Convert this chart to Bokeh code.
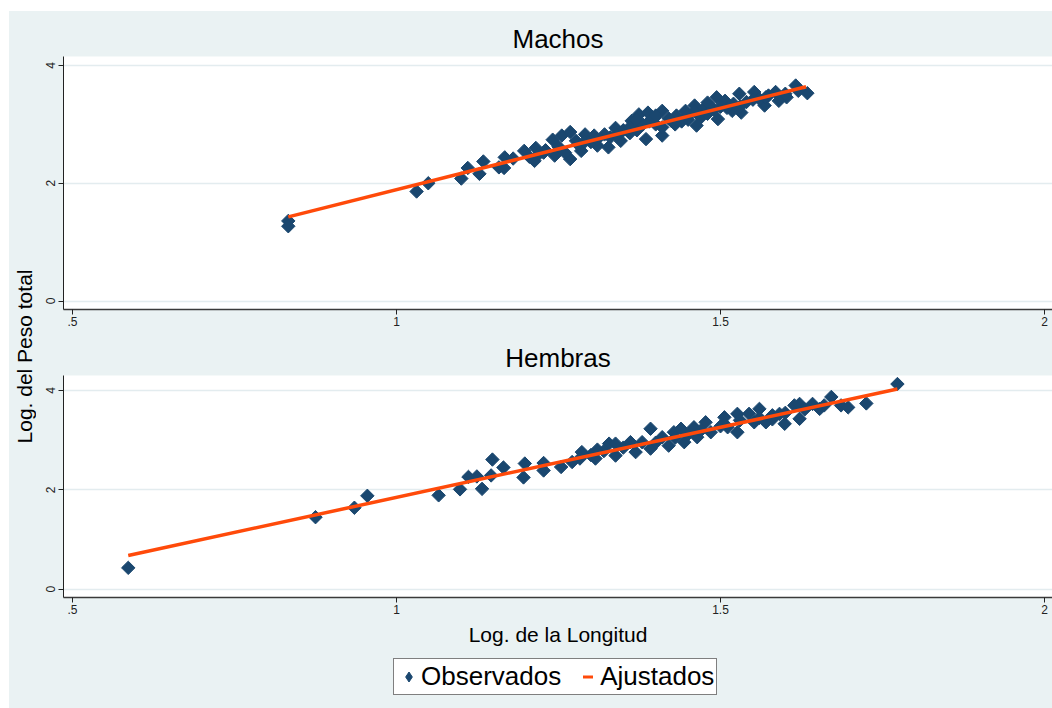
import math
from bokeh.plotting import figure
from bokeh.layouts import row, column
from bokeh.models import Label, Legend, LegendItem, FixedTicker, Range1d
from bokeh.embed import file_html
from bokeh.resources import INLINE

# Log-length / log-weight observations, males
male_x = [0.833, 0.833, 1.031, 1.049, 1.100, 1.110, 1.128, 1.134, 1.158, 1.167,
          1.166, 1.180, 1.197, 1.205, 1.215, 1.213, 1.227, 1.241, 1.244, 1.255,
          1.268, 1.268, 1.277, 1.291, 1.285, 1.305, 1.310, 1.321, 1.327, 1.338,
          1.346, 1.363, 1.374, 1.371, 1.388, 1.385, 1.399, 1.410, 1.410, 1.424,
          1.432, 1.446, 1.463, 1.460, 1.474, 1.480, 1.494, 1.496, 1.507, 1.518,
          1.529, 1.532, 1.552, 1.568, 1.574, 1.585, 1.602, 1.616, 1.634,
          1.300, 1.330, 1.350, 1.360, 1.380, 1.400, 1.420, 1.440, 1.450, 1.470,
          1.490, 1.510, 1.540, 1.560, 1.590, 1.250, 1.220, 1.280,
          1.230, 1.260, 1.290, 1.310, 1.340, 1.360, 1.370, 1.390, 1.400, 1.410,
          1.430, 1.450, 1.460, 1.480, 1.500, 1.520, 1.530, 1.550, 1.570, 1.600,
          1.620]
male_y = [1.36, 1.27, 1.86, 2.00, 2.08, 2.26, 2.16, 2.37, 2.27, 2.44,
          2.26, 2.42, 2.55, 2.45, 2.60, 2.38, 2.52, 2.74, 2.47, 2.81,
          2.87, 2.41, 2.72, 2.83, 2.55, 2.81, 2.64, 2.83, 2.61, 2.94,
          2.72, 3.06, 3.17, 2.90, 3.20, 2.75, 3.12, 3.23, 2.81, 3.06,
          3.15, 3.23, 2.98, 3.32, 3.26, 3.37, 3.46, 3.09, 3.40, 3.23,
          3.52, 3.20, 3.55, 3.32, 3.49, 3.55, 3.46, 3.66, 3.53,
          2.70, 2.78, 2.90, 2.85, 3.00, 3.00, 3.10, 3.05, 3.15, 3.12,
          3.25, 3.28, 3.38, 3.43, 3.40, 2.62, 2.50, 2.66,
          2.56, 2.52, 2.70, 2.75, 2.82, 2.95, 3.08, 3.05, 3.15, 2.95,
          3.00, 3.08, 3.22, 3.18, 3.30, 3.35, 3.30, 3.42, 3.46, 3.52,
          3.57]

# Log-length / log-weight observations, females
female_x = [0.586, 0.875, 0.935, 0.955, 1.065, 1.098, 1.111, 1.124, 1.132, 1.148,
            1.146, 1.165, 1.196, 1.198, 1.227, 1.227, 1.254, 1.271, 1.286, 1.283,
            1.307, 1.310, 1.328, 1.338, 1.338, 1.361, 1.369, 1.379, 1.392, 1.392,
            1.410, 1.420, 1.428, 1.439, 1.444, 1.459, 1.464, 1.477, 1.485, 1.506,
            1.511, 1.526, 1.526, 1.544, 1.552, 1.560, 1.570, 1.580, 1.591, 1.599,
            1.614, 1.622, 1.622, 1.642, 1.653, 1.671, 1.686, 1.697, 1.725, 1.773,
            1.300, 1.320, 1.350, 1.400, 1.430, 1.450, 1.470, 1.500, 1.530, 1.560,
            1.580, 1.600, 1.630, 1.660]
female_y = [0.43, 1.45, 1.64, 1.88, 1.89, 2.01, 2.26, 2.27, 2.02, 2.61,
            2.29, 2.45, 2.25, 2.53, 2.39, 2.54, 2.46, 2.56, 2.76, 2.63,
            2.63, 2.81, 2.93, 2.69, 2.93, 2.96, 2.76, 2.96, 3.23, 2.83,
            3.06, 2.89, 3.16, 3.23, 2.96, 3.26, 3.06, 3.36, 3.16, 3.46,
            3.26, 3.53, 3.16, 3.53, 3.36, 3.63, 3.36, 3.50, 3.53, 3.33,
            3.70, 3.73, 3.43, 3.73, 3.63, 3.87, 3.70, 3.66, 3.74, 4.13,
            2.70, 2.78, 2.85, 2.95, 3.05, 3.12, 3.20, 3.28, 3.40, 3.45,
            3.42, 3.55, 3.62, 3.70]

# Fitted regression lines (end points of the fitted values)
male_fit_x = [0.833, 1.632]
male_fit_y = [1.43, 3.64]
female_fit_x = [0.586, 1.773]
female_fit_y = [0.68, 4.03]

x_ticks = [0.5, 1, 1.5, 2]
x_tick_labels = [".5", "1", "1.5", "2"]
y_ticks = [0, 2, 4]

BG = "#EAF2F3"
NAVY = "#1A476F"
ORANGE = "#FF4A0A"
FONT = "Liberation Sans"
MARKER = dict(marker="square", angle=math.pi / 4, fill_color=NAVY, line_color=NAVY)


def panel(title, height, border_top, border_bottom, y_range, xs, ys, fx, fy):
    p = figure(width=1016, height=height, output_backend="svg",
               toolbar_location=None,
               x_range=Range1d(0.4861, 2.0123), y_range=y_range,
               min_border_left=27, min_border_right=0,
               min_border_top=border_top, min_border_bottom=border_bottom)
    p.border_fill_color = BG
    p.background_fill_color = "white"
    p.outline_line_color = None

    p.title.text = title
    p.title.align = "center"
    p.title.text_font = FONT
    p.title.text_font_size = "26px"
    p.title.text_font_style = "normal"
    p.title.text_color = "black"
    p.title.standoff = 5

    p.xgrid.visible = False
    p.ygrid.ticker = FixedTicker(ticks=y_ticks)
    p.ygrid.grid_line_color = "#E3ECEF"
    p.ygrid.grid_line_width = 1.5

    xa = p.xaxis[0]
    xa.ticker = FixedTicker(ticks=x_ticks)
    xa.major_label_overrides = dict(zip(x_ticks, x_tick_labels))
    xa.axis_line_color = "#3a3a3a"
    xa.axis_line_width = 1.5
    xa.major_tick_in = 0
    xa.major_tick_out = 5
    xa.major_tick_line_color = "#222222"
    xa.minor_tick_line_color = None
    xa.major_label_text_font = FONT
    xa.major_label_text_font_size = "12px"
    xa.major_label_text_color = "#222222"
    xa.major_label_standoff = 2

    ya = p.yaxis[0]
    ya.ticker = FixedTicker(ticks=y_ticks)
    ya.axis_line_color = "#222222"
    ya.major_tick_in = 0
    ya.major_tick_out = 5
    ya.major_tick_line_color = "#222222"
    ya.minor_tick_line_color = None
    ya.major_label_orientation = "vertical"
    ya.major_label_text_font = FONT
    ya.major_label_text_font_size = "12px"
    ya.major_label_text_color = "#222222"
    ya.major_label_standoff = 3

    p.scatter(xs, ys, size=9.5, **MARKER)
    p.line(fx, fy, line_color=ORANGE, line_width=3.5)
    return p


top = panel("Machos", 324, 45, 26, Range1d(-0.144, 4.153),
            male_x, male_y, male_fit_x, male_fit_y)
bot = panel("Hembras", 313, 40, 51, Range1d(-0.167, 4.302),
            female_x, female_y, female_fit_x, female_fit_y)

bot.xaxis[0].axis_label = "Log. de la Longitud"
bot.xaxis[0].axis_label_text_font = FONT
bot.xaxis[0].axis_label_text_font_size = "21px"
bot.xaxis[0].axis_label_text_font_style = "normal"
bot.xaxis[0].axis_label_text_color = "black"
bot.xaxis[0].axis_label_standoff = 6

# legend strip under the panels; keys styled like the plotted series
# (single NaN point so the key glyphs render without drawing a visible mark)
key = figure(width=1016, height=60, output_backend="svg", toolbar_location=None,
             x_range=Range1d(0, 1), y_range=Range1d(0, 1), min_border=0)
key.axis.visible = False
key.grid.visible = False
key.outline_line_color = None
key.border_fill_color = BG
key.background_fill_color = BG
nan = float("nan")
obs_key = key.scatter(x=[nan], y=[nan], marker="diamond", size=10,
                      fill_color=NAVY, line_color=NAVY)
fit_key = key.scatter(x=[nan], y=[nan], marker="dash", size=8,
                      line_color=ORANGE, line_width=3)
legend = Legend(items=[LegendItem(label="Observados", renderers=[obs_key]),
                       LegendItem(label="Ajustados", renderers=[fit_key])],
                orientation="horizontal", location=(330, 13),
                label_text_font=FONT, label_text_font_size="26px",
                label_text_color="black",
                glyph_width=25, glyph_height=25, label_standoff=0,
                spacing=14, padding=2, margin=0,
                border_line_color="black", border_line_width=1,
                background_fill_color="white", background_fill_alpha=1.0)
key.add_layout(legend)

# shared y-axis title strip
strip = figure(width=27, height=697, output_backend="svg", toolbar_location=None,
               x_range=Range1d(0, 27), y_range=Range1d(0, 697),
               min_border=0)
strip.axis.visible = False
strip.grid.visible = False
strip.outline_line_color = None
strip.border_fill_color = BG
strip.background_fill_color = BG
strip.add_layout(Label(x=15, y=352, x_units="screen", y_units="screen",
                       text="Log. del Peso total", angle=math.pi / 2,
                       text_align="center", text_baseline="middle",
                       text_font=FONT, text_font_size="21px", text_color="black"))

panels = column(top, bot, key, styles={"background-color": BG})
page = row(strip, panels, margin=(11, 0, 0, 9), styles={"background-color": BG})

open("out.html", "w").write(file_html(page, INLINE))
